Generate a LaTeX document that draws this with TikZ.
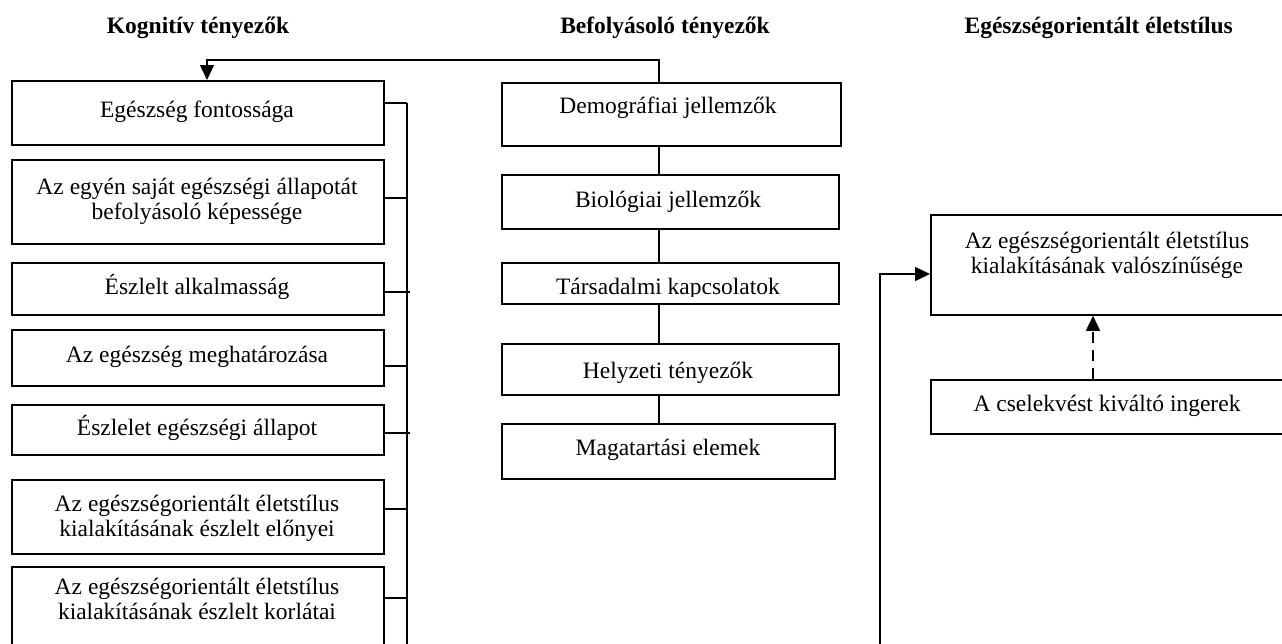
\documentclass[tikz,border=0pt]{standalone}
\usepackage{fontspec}
\setmainfont{Liberation Serif}
\usetikzlibrary{arrows.meta}
\begin{document}
\begin{tikzpicture}[x=1pt,y=-1pt,
  box/.style={draw=black, line width=1.8pt, inner sep=0pt, anchor=north west},
  txt/.style={anchor=base, inner sep=0pt, align=center, font=\fontsize{23.5}{24.5}\selectfont},
  head/.style={anchor=base, inner sep=0pt, font=\fontsize{23.5}{24.5}\selectfont\bfseries},
  conn/.style={line width=1.3pt, draw=black},
  tip/.style={-{Triangle[width=14pt,length=15pt]}},
  dashconn/.style={line width=1.8pt, draw=black, dash pattern=on 11pt off 7pt},
]
\useasboundingbox (0,0) rectangle (1282,643);
\clip (0,0) rectangle (1282,643);

% headers
\node[head] (h1) at (198,33) {Kognitív tényezők};
\node[head] (h2) at (665,33) {Befolyásoló tényezők};
\node[head, anchor=base east] (h3) at (1233,33) {Egészségorientált életstílus};

% left column boxes
\node[box, minimum width=372pt, minimum height=64pt] (k1) at (11,80) {};
\node[box, minimum width=372pt, minimum height=84pt] (k2) at (11,159) {};
\node[box, minimum width=372pt, minimum height=52pt] (k3) at (11,262) {};
\node[box, minimum width=372pt, minimum height=56pt] (k4) at (11,329) {};
\node[box, minimum width=372pt, minimum height=50pt] (k5) at (11,404) {};
\node[box, minimum width=372pt, minimum height=74pt] (k6) at (11,479) {};
\node[box, minimum width=372pt, minimum height=120pt] (k7) at (11,566) {};

% (multi-line nodes: base = baseline of the last line)
\node[txt] (tk1) at (197,117) {Egészség fontossága};
\node[txt] (tk2) at (197,219) {Az egyén saját egészségi állapotát\\befolyásoló képessége};
\node[txt] (tk3) at (197,294) {Észlelt alkalmasság};
\node[txt] (tk4) at (197,362) {Az egészség meghatározása};
\node[txt] (tk5) at (197,435) {Észlelet egészségi állapot};
\node[txt] (tk6) at (197,536) {Az egészségorientált életstílus\\kialakításának észlelt előnyei};
\node[txt] (tk7) at (197,619) {Az egészségorientált életstílus\\kialakításának észlelt korlátai};

% middle column boxes
\node[box, minimum width=339pt, minimum height=63pt] (b1) at (501,82) {};
\node[box, minimum width=337pt, minimum height=54pt] (b2) at (501,174) {};
\node[box, minimum width=337pt, minimum height=41pt] (b3) at (501,262) {};
\node[box, minimum width=337pt, minimum height=51pt] (b4) at (501,343) {};
\node[box, minimum width=333pt, minimum height=55pt] (b5) at (501,423) {};

\node[txt] (tb1) at (668,113) {Demográfiai jellemzők};
\node[txt] (tb2) at (668,207) {Biológiai jellemzők};
\begin{scope}
  \clip (501,262) rectangle (838,296.5);
  \node[txt] (tb3) at (668,294) {Társadalmi kapcsolatok};
\end{scope}
\node[txt] (tb4) at (668,378) {Helyzeti tényezők};
\node[txt] (tb5) at (668,455) {Magatartási elemek};

% right column boxes
\node[box, minimum width=380pt, minimum height=100pt] (r1) at (930,214) {};
\node[box, minimum width=380pt, minimum height=54pt] (r2) at (930,379) {};
\node[txt] (tr1) at (1107,273) {Az egészségorientált életstílus\\kialakításának valószínűsége};
\node[txt] (tr2) at (1107,411) {A cselekvést kiváltó ingerek};

% bus on the left
\coordinate (bustop) at (407,103);
\coordinate (busbot) at (407,700);
\draw[conn] (bustop) -- (busbot);
\draw[conn] (k1.east |- bustop) -- (bustop);
\draw[conn] (k2.east |- 0,198) -- (bustop |- 0,198);
\draw[conn] (k3.east |- 0,292) -- (410,292);
\draw[conn] (k4.east |- 0,366) -- (bustop |- 0,366);
\draw[conn] (k5.east |- 0,433) -- (410,433);
\draw[conn] (k6.east |- 0,509) -- (bustop |- 0,509);
\draw[conn] (k7.east |- 0,598) -- (bustop |- 0,598);

% top connector from middle column to left column
\coordinate (midx) at (659,60);
\coordinate (tl) at (207,60);
\draw[conn, tip] (b1.north -| midx) -- (midx) -- (tl) -- (k1.north -| tl);
\draw[conn] (383,59.3) -- (489,59.3);

% middle chain
\draw[conn] (b1.south -| midx) -- (b2.north -| midx);
\draw[conn] (b2.south -| midx) -- (b3.north -| midx);
\draw[conn] (b3.south -| midx) -- (b4.north -| midx);
\draw[conn] (b4.south -| midx) -- (b5.north -| midx);

% right side
\coordinate (rb) at (880,700);
\draw[conn, tip] (rb) |- (r1.west |- 0,274);
\coordinate (dx) at (1093,0);
\draw[dashconn, tip] (r2.north -| dx) -- (r1.south -| dx);
\end{tikzpicture}
\end{document}
